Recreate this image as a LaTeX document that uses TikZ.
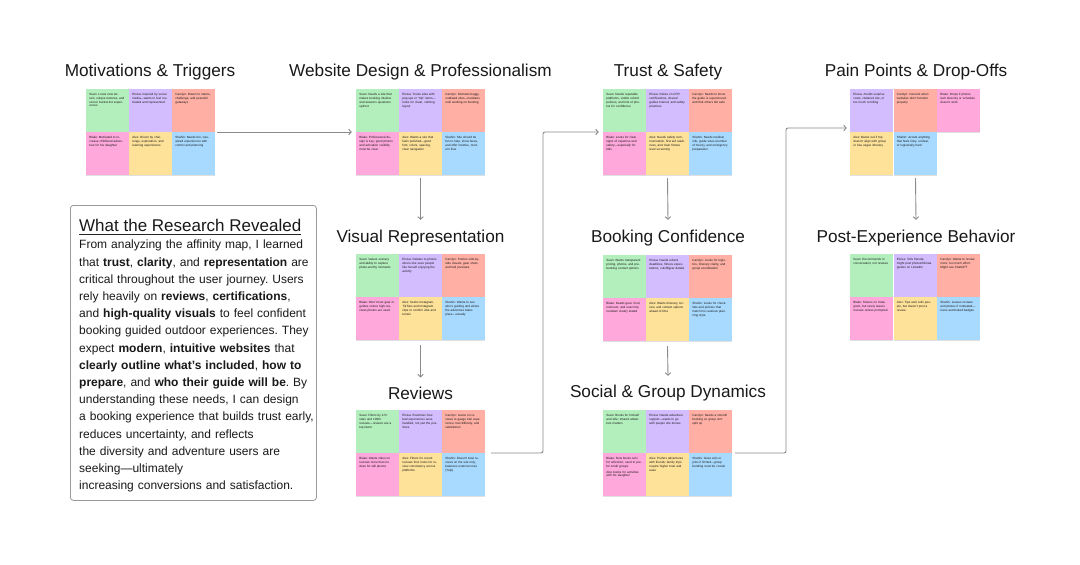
\documentclass[tikz,border=0pt]{standalone}
\usepackage{fontspec}
\setmainfont{Liberation Sans}
\usetikzlibrary{arrows.meta}
\frenchspacing
\definecolor{sgreen}{HTML}{B3EFBD}
\definecolor{spurple}{HTML}{D3BDFF}
\definecolor{sred}{HTML}{FFAFA3}
\definecolor{spink}{HTML}{FFA8DB}
\definecolor{syellow}{HTML}{FFE299}
\definecolor{sblue}{HTML}{A8DAFF}
\definecolor{inkgray}{HTML}{8A8A8A}
\tikzset{
  title/.style={font=\fontsize{17.2}{20}\selectfont, text=black!90, inner sep=0pt},
  sticky/.style={minimum width=43pt, minimum height=43pt, inner sep=0pt, anchor=north west, draw=none},
  stxt/.style={anchor=north west, inner sep=0pt, text width=35.5pt, align=left, font=\fontsize{3.05}{3.7}\selectfont, text=black!90},
  clusterbox/.style={minimum width=129pt, minimum height=86pt, inner sep=0pt, draw=none},
  conn/.style={draw=inkgray, line width=0.9pt, rounded corners=2pt, -{Straight Barb[length=2.5pt,width=5.5pt]}}
}
\newcommand{\stk}[5]{%
  \fill[black!12] (#2,#3+1.2) rectangle ++(43,43);
  \node[sticky, fill=#4] (#1) at (#2,#3) {};
  \node[stxt] (#1t) at ([shift={(3.2pt,-4.5pt)}]#1.north west) {#5};
}
\begin{document}
\begin{tikzpicture}[x=1pt,y=-1pt]
\useasboundingbox[fill=white] (0,0) rectangle (1080,565);

% ---------- titles
\node[title] (tmot) at (150,72) {Motivations \& Triggers};
\node[title] (tweb) at (420.5,72) {Website Design \& Professionalism};
\node[title] (ttrust) at (668,72) {Trust \& Safety};
\node[title] (tpain) at (916,72) {Pain Points \& Drop-Offs};
\node[title] (tvis) at (420.5,238) {Visual Representation};
\node[title] (tbook) at (668,238) {Booking Confidence};
\node[title] (tpost) at (916,238) {Post-Experience Behavior};
\node[title] (trev) at (420.5,393) {Reviews};
\node[title] (tsoc) at (668,393) {Social \& Group Dynamics};

% ---------- Motivations
\stk{m1}{86}{89}{sgreen}{Sean: Loves new terrain, unique textures, and scenic bucket-list experiences}
\stk{m2}{129}{89}{spurple}{Eloisa: Inspired by social media---wants to feel motivated and represented}
\stk{m3}{172}{89}{sred}{Carolyn: Drawn to nature, challenge, and peaceful getaways}
\stk{m4}{86}{132}{spink}{Blake: Motivated to increase childhood adventure for his daughter}
\stk{m5}{129}{132}{syellow}{Alex: Driven by challenge, exploration, and learning experiences}
\stk{m6}{172}{132}{sblue}{Shahin: Needs fun, visualized experiences with control and planning}
\node[clusterbox] (mot) at (150.5,132) {};

% ---------- Website
\stk{w1}{356}{89}{sgreen}{Sean: Needs a site that makes booking intuitive and answers questions upfront}
\stk{w2}{399}{89}{spurple}{Eloisa: Trusts sites with pop-ups or “trip” items---looks for clean, calming layout}
\stk{w3}{442}{89}{sred}{Carolyn: Distrusts buggy, outdated sites---hesitates until working on booking}
\stk{w4}{356}{132}{spink}{Blake: Professional design is key; good photos and activation visibility must be clear}
\stk{w5}{399}{132}{syellow}{Alex: Wants a site that feels polished---good font, colors, spacing, clear navigation}
\stk{w6}{442}{132}{sblue}{Shahin: Site should be fun to help, show faces, and offer intuitive, modern flow}
\node[clusterbox] (web) at (420.5,132) {};

% ---------- Trust
\stk{s1}{603}{89}{sgreen}{Sean: Needs reputable platforms, visible refund policies, and lots of photos for confidence}
\stk{s2}{646}{89}{spurple}{Eloisa: Relies on CPR certifications, shared guides trained, and safety practices}
\stk{s3}{689}{89}{sred}{Carolyn: Needs to know the guide is experienced and that others felt safe}
\stk{s4}{603}{132}{spink}{Blake: Looks for clear signs of expertise and safety---especially for kids}
\stk{s5}{646}{132}{syellow}{Alex: Needs safety communication, first aid readiness, and clear fitness level screening}
\stk{s6}{689}{132}{sblue}{Shahin: Needs medical info, guide sizes (number of hours), and emergency preparation}
\node[clusterbox] (trust) at (667.5,132) {};

% ---------- Pain
\stk{p1}{850}{89}{spurple}{Eloisa: Avoids surprise costs, cluttered site, or too much scrolling}
\stk{p2}{893.5}{89}{sred}{Carolyn: Cancels when websites don’t function properly}
\stk{p3}{937}{89}{spink}{Blake: Drops if photos lack diversity or schedule doesn’t work}
\stk{p4}{850}{132}{syellow}{Alex: Backs out if trip doesn’t align with group or has vague itinerary}
\stk{p5}{893.5}{132}{sblue}{Shahin: Avoids anything that feels risky, unclear, or logistically hard}
\node[clusterbox] (pain) at (915.5,132) {};

% ---------- Visual
\stk{v1}{356}{254}{sgreen}{Sean: Values scenery and ability to capture photo-worthy moments}
\stk{v2}{399}{254}{spurple}{Eloisa: Relates to photos where she sees people like herself enjoying the activity}
\stk{v3}{442}{254}{sred}{Carolyn: Prefers side-by-side visuals, gear shots, and trail previews}
\stk{v4}{356}{297}{spink}{Blake: Won’t trust gear or guides unless high-res, clean photos are used}
\stk{v5}{399}{297}{syellow}{Alex: Seeks Instagram, TikToks and Instagram clips to confirm vibe and terrain}
\stk{v6}{442}{297}{sblue}{Shahin: Wants to see who’s guiding and where the adventure takes place---visually}
\node[clusterbox] (vis) at (420.5,297) {};

% ---------- Booking
\stk{b1}{603}{255}{sgreen}{Sean: Wants transparent pricing, photos, and pre-booking contact options}
\stk{b2}{646}{255}{spurple}{Eloisa: Needs refund deadlines, fitness expectations, cutoff/gear details}
\stk{b3}{689}{255}{sred}{Carolyn: Looks for logistics, itinerary clarity, and group coordination}
\stk{b4}{603}{298}{spink}{Blake: Needs gear, food, restroom, and exact trip rundown clearly stated}
\stk{b5}{646}{298}{syellow}{Alex: Wants itinerary, terrain, and contact options ahead of time}
\stk{b6}{689}{298}{sblue}{Shahin: Looks for checklists and policies that match his cautious planning style}
\node[clusterbox] (book) at (667.5,298) {};

% ---------- Reviews
\stk{r1}{356}{410}{sgreen}{Sean: Filters by 4.5+ stars and 1000+ reviews---reviews are a top factor}
\stk{r2}{399}{410}{spurple}{Eloisa: Examines how bad experiences were handled, not just the positives}
\stk{r3}{442}{410}{sred}{Carolyn: Leans on reviews to gauge trail experience, trail difficulty, and satisfaction}
\stk{r4}{356}{453}{spink}{Blake: Wants video on reviews more than he does for still photos}
\stk{r5}{399}{453}{syellow}{Alex: Filters for recent reviews first; looks for review consistency across platforms}
\stk{r6}{442}{453}{sblue}{Shahin: Doesn’t trust reviews on the site only; balances external ones (Yelp)}
\node[clusterbox] (rev) at (420.5,453) {};

% ---------- Social
\stk{g1}{603}{410}{sgreen}{Sean: Books for himself and wife; shared adventure matters}
\stk{g2}{646}{410}{spurple}{Eloisa: Needs adventure support---wants to go with people she knows}
\stk{g3}{689}{410}{sred}{Carolyn: Needs a smooth booking so group isn’t split up}
\stk{g4}{603}{453}{spink}{Blake: Now books solo for reflection; used to prefer small groups\\[2pt]Also books for activities with his daughter}
\stk{g5}{646}{453}{syellow}{Alex: Prefers adventures with friends; family trips require higher trust and ease}
\stk{g6}{689}{453}{sblue}{Shahin: Goes solo or joins if limited---group bonding must be crucial}
\node[clusterbox] (soc) at (667.5,453) {};

% ---------- Post
\stk{q1}{850}{254}{sgreen}{Sean: Recommends in conversation, not reviews}
\stk{q2}{893.5}{254}{spurple}{Eloisa: Tells friends; might post photos/follows guides on LinkedIn}
\stk{q3}{937}{254}{sred}{Carolyn: Wants to review more; too much effort. Might use ChatGPT}
\stk{q4}{850}{297}{spink}{Blake: Shares on Instagram, but rarely leaves reviews unless prompted}
\stk{q5}{893.5}{297}{syellow}{Alex: Tips well, tells people, but doesn’t post a review}
\stk{q6}{937}{297}{sblue}{Shahin: Leaves reviews and photos if motivated---loves automated badges}
\node[clusterbox] (post) at (915.5,297) {};

% ---------- connectors
\coordinate (bendA) at (543,0);
\coordinate (bendB) at (786,0);
\draw[conn, shorten <=2pt, shorten >=4pt] (mot.east) -- (web.west);
\draw[conn] ([yshift=-3pt]web.south) -- ([yshift=10pt]tvis.north);
\draw[conn] ([yshift=-5pt]vis.south) -- ([yshift=9pt]trev.north);
\draw[conn] ([yshift=-3pt]trust.south) -- ([yshift=10pt]tbook.north);
\draw[conn] ([yshift=-5pt]book.south) -- ([yshift=9pt]tsoc.north);
\draw[conn] ([yshift=-3pt]pain.south) -- ([yshift=10pt]tpost.north);
\draw[conn] ([xshift=6pt]rev.east) -- (bendA |- rev.east) -- (bendA |- trust.west) -- ([xshift=-4pt]trust.west);
\draw[conn] ([xshift=3pt]soc.east) -- (bendB |- soc.east) -- ([yshift=4pt]bendB |- pain.west) -- ([xshift=-4pt,yshift=4pt]pain.west);

% ---------- research box
\node[draw=black!40, line width=0.8pt, rounded corners=3pt, minimum width=246pt, minimum height=295pt, anchor=north west, inner sep=0pt] (box) at (70,205) {};
\node[anchor=west, inner sep=0pt, font=\fontsize{17}{20}\selectfont, text=black!90] (head) at (79,225) {What the Research Revealed};
\draw[black!85, line width=0.8pt] ([yshift=-3pt]head.base west) -- ([yshift=-3pt]head.base east);
\node[anchor=north west, inner sep=0pt, text width=245pt, align=left, font=\fontsize{12}{17.2}\selectfont, text=black!90] (body) at (79,240) {%
From analyzing the affinity map, I learned\\
that \textbf{trust}, \textbf{clarity}, and \textbf{representation} are\\
critical throughout the user journey. Users\\
rely heavily on \textbf{reviews}, \textbf{certifications},\\
and \textbf{high-quality visuals} to feel confident\\
booking guided outdoor experiences. They\\
expect \textbf{modern}, \textbf{intuitive websites} that\\
\textbf{clearly outline what’s included}, \textbf{how to}\\
\textbf{prepare}, and \textbf{who their guide will be}. By\\
understanding these needs, I can design\\
a booking experience that builds trust early,\\
reduces uncertainty, and reflects\\
the diversity and adventure users are\\
seeking---ultimately\\
increasing conversions and satisfaction.};
\end{tikzpicture}
\end{document}
